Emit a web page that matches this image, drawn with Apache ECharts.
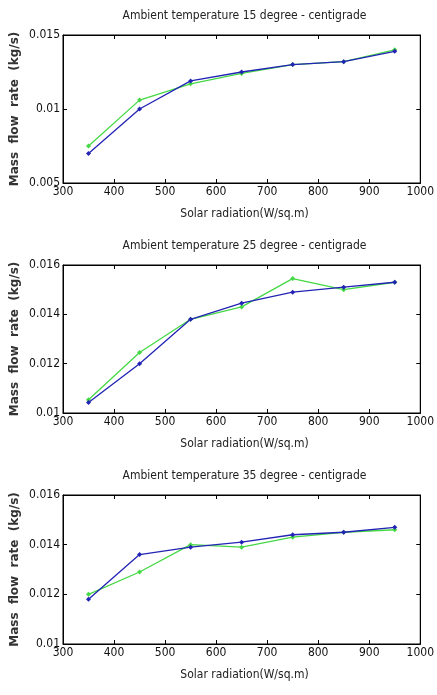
<!DOCTYPE html>
<html><head><meta charset="utf-8">
<script src="https://cdn.jsdelivr.net/npm/echarts@6/dist/echarts.min.js"></script>
<style>html,body{margin:0;padding:0;background:#fff}#c{width:437px;height:695px}</style>
</head><body><div id="c"></div>
<script>
const radiation = [350, 450, 550, 650, 750, 850, 950];
const blue15 = [0.0070, 0.0100, 0.0119, 0.0125, 0.0130, 0.0132, 0.0139];
const green15 = [0.0075, 0.0106, 0.0117, 0.0124, 0.0130, 0.0132, 0.0140];
const blue25 = [0.01043, 0.0120, 0.0138, 0.01445, 0.0149, 0.0151, 0.0153];
const green25 = [0.01054, 0.01245, 0.0138, 0.0143, 0.01545, 0.0150, 0.0153];
const blue35 = [0.0118, 0.0136, 0.0139, 0.0141, 0.0144, 0.0145, 0.0147];
const green35 = [0.0120, 0.0129, 0.0140, 0.0139, 0.0143, 0.0145, 0.0146];
const titles = ['Ambient temperature 15 degree - centigrade','Ambient temperature 25 degree - centigrade','Ambient temperature 35 degree - centigrade'];
const yRanges = [[0.005, 0.015, 0.005],[0.010, 0.016, 0.002],[0.010, 0.016, 0.002]];
const xLabel = 'Solar radiation(W/sq.m)';
const yLabel = 'Mass  flow  rate  (kg/s)';

const FONT = '"Liberation Sans Narrow","DejaVu Sans Condensed","Liberation Sans",sans-serif';
const tops = [35, 265, 495];
const heights = [148, 148, 149];
const left = 63, width = 363;
const pairs = (ys) => radiation.map((x, i) => [x, ys[i]]);
const sets = [[blue15, green15],[blue25, green25],[blue35, green35]];

const option = {animation:false, backgroundColor:'#fff', grid:[], xAxis:[], yAxis:[], series:[], title:[], graphic:[]};
for (let k = 0; k < 3; k++) {
  option.grid.push({left:left, top:tops[k], width:width, height:heights[k], show:true, borderColor:'#000', borderWidth:1, backgroundColor:'#fff'});
  const axLine = {show:true, lineStyle:{color:'#000', width:1}};
  option.xAxis.push({type:'value', gridIndex:k, min:300, max:1000, interval:100, position:'bottom',
    axisLine:axLine, axisTick:{inside:true, length:4, lineStyle:{color:'#000'}}, splitLine:{show:false},
    axisLabel:{color:'#111', fontFamily:FONT, fontSize:12, margin:3, formatter:(v)=>String(v)}});
  option.xAxis.push({type:'value', gridIndex:k, min:300, max:1000, interval:100, position:'top',
    axisLine:axLine, axisTick:{inside:true, length:4, lineStyle:{color:'#000'}}, splitLine:{show:false}, axisLabel:{show:false}});
  const [ymin, ymax, yint] = yRanges[k];
  option.yAxis.push({type:'value', gridIndex:k, min:ymin, max:ymax, interval:yint, position:'left',
    axisLine:axLine, axisTick:{inside:true, length:4, lineStyle:{color:'#000'}}, splitLine:{show:false},
    axisLabel:{color:'#111', fontFamily:FONT, fontSize:12, margin:3, formatter:(v)=>String(+v.toFixed(4))}});
  option.yAxis.push({type:'value', gridIndex:k, min:ymin, max:ymax, interval:yint, position:'right',
    axisLine:axLine, axisTick:{inside:true, length:4, lineStyle:{color:'#000'}}, splitLine:{show:false}, axisLabel:{show:false}});
  const cols = ['#2323b5', '#45d845'];
  sets[k].forEach((ys, j) => {
    option.series.push({type:'line', xAxisIndex:2*k, yAxisIndex:2*k, data:pairs(ys),
      symbol:'diamond', symbolSize:5, showSymbol:true,
      lineStyle:{color:cols[j], width:1.3}, itemStyle:{color:cols[j]}, z: j===0?3:2});
  });
  option.graphic.push({type:'text', x:left + width/2, y:tops[k]-19,
    style:{text:titles[k], font:'12px ' + FONT, fill:'#222', align:'center', verticalAlign:'middle'}});
  option.graphic.push({type:'text', x:left + width/2, y:tops[k]+heights[k]+31,
    style:{text:xLabel, font:'12px ' + FONT, fill:'#222', align:'center', verticalAlign:'middle'}});
  option.graphic.push({type:'text', x:15, y:tops[k]+heights[k]/2, rotation:Math.PI/2,
    style:{text:yLabel, font:'bold 12px "DejaVu Sans",sans-serif', fill:'#333', align:'center', verticalAlign:'middle'}});
}
delete option.title;
const chart = echarts.init(document.getElementById('c'), null, {renderer:'canvas'});
chart.setOption(option);
</script></body></html>
